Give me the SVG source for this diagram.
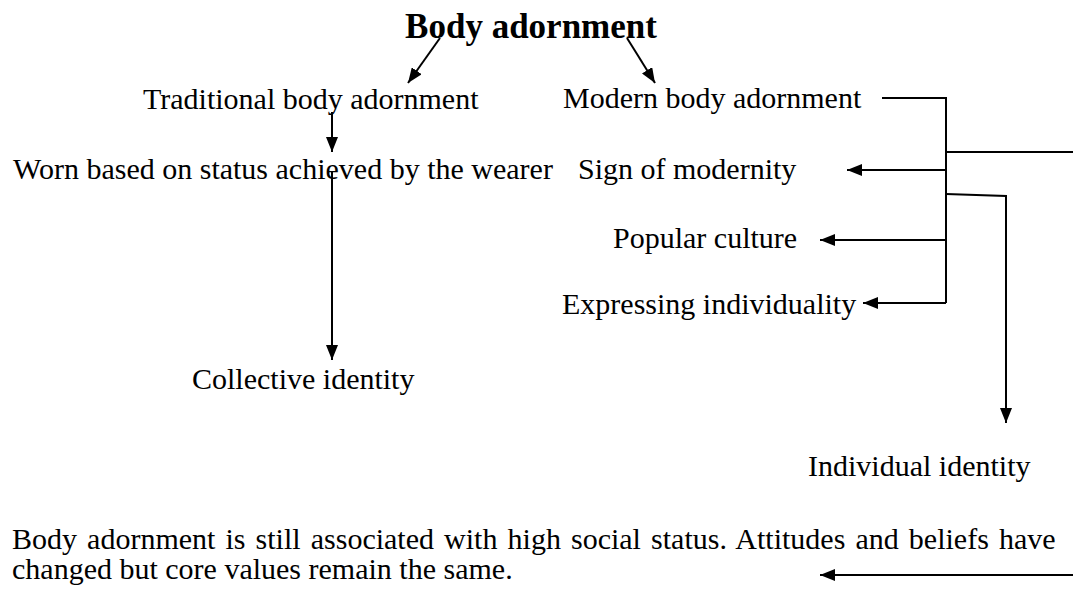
<svg xmlns="http://www.w3.org/2000/svg" width="1073" height="600" viewBox="0 0 1073 600">
  <defs>
    <marker id="head" markerUnits="userSpaceOnUse" markerWidth="15" markerHeight="12" refX="15" refY="6" orient="auto">
      <path d="M0,0 L15,6 L0,12 z" fill="#000"/>
    </marker>
    <style>
      text { font-family: "Liberation Serif", "Times New Roman", serif; font-size: 30px; fill: #000; }
      .title { font-size: 35px; font-weight: bold; }
      .link { fill: none; stroke: #000; stroke-width: 2; }
      .arrow { marker-end: url(#head); }
    </style>
  </defs>
  <rect width="1073" height="600" fill="#fff"/>

  <!-- connectors -->
  <g id="connectors">
    <path class="link arrow" d="M440,38 L408,83"/>
    <path class="link arrow" d="M627,38 L655,83"/>
    <path class="link arrow" d="M332,112 V152"/>
    <path class="link arrow" d="M332,172 V360"/>
    <path class="link" d="M882,98 H946 V303"/>
    <path class="link" d="M946,152 H1073"/>
    <path class="link arrow" d="M946,170 H847"/>
    <path class="link arrow" d="M946,240 H820"/>
    <path class="link arrow" d="M946,303 H863"/>
    <path class="link arrow" d="M946,194 L1006,196 V423"/>
    <path class="link arrow" d="M1073,575 H820"/>
  </g>

  <!-- nodes -->
  <g id="body-adornment"><text class="title" x="531" y="38" text-anchor="middle">Body adornment</text></g>
  <g id="traditional"><text x="143" y="109">Traditional body adornment</text></g>
  <g id="modern"><text x="563" y="108">Modern body adornment</text></g>
  <g id="status"><text x="13" y="179">Worn based on status achieved by the wearer</text></g>
  <g id="modernity"><text x="578" y="179">Sign of modernity</text></g>
  <g id="popular"><text x="613" y="248">Popular culture</text></g>
  <g id="individuality"><text x="562" y="314">Expressing individuality</text></g>
  <g id="collective"><text x="192" y="389">Collective identity</text></g>
  <g id="individual"><text x="808" y="476">Individual identity</text></g>
  <g id="summary">
    <text x="12" y="549" word-spacing="2.6">Body adornment is still associated with high social status. Attitudes and beliefs have</text>
    <text x="12" y="579">changed but core values remain the same.</text>
  </g>
</svg>
